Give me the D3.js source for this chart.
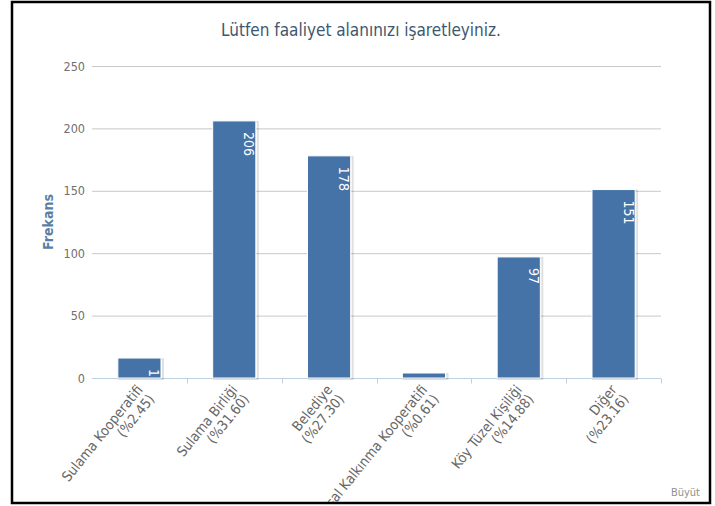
<!DOCTYPE html>
<html>
<head>
<meta charset="utf-8">
<script src="https://cdn.jsdelivr.net/npm/d3@7"></script>
<style>
  html, body { margin: 0; padding: 0; background: #fff; }
  svg { display: block; }
  text { font-family: "DejaVu Sans Condensed", "DejaVu Sans", sans-serif; }
</style>
</head>
<body>
<svg id="chart" width="715" height="506"></svg>
<script>
// Activity-area survey answers (frequency per category)
const categories = [
  "Sulama Kooperatifi",
  "Sulama Birliği",
  "Belediye",
  "Kırsal Kalkınma Kooperatifi",
  "Köy Tüzel Kişiliği",
  "Diğer"
];
const frequencies = [16, 206, 178, 4, 97, 151];
const percentLabels = ["(%2.45)", "(%31.60)", "(%27.30)", "(%0.61)", "(%14.88)", "(%23.16)"];
const yTicks = [0, 50, 100, 150, 200, 250];

const titleText = "Lütfen faaliyet alanınızı işaretleyiniz.";
const yAxisTitle = "Frekans";
const creditText = "Büyüt";

const svg = d3.select("#chart");

// outer frame
const frame = { x: 12, y: 2, w: 698, h: 501 };
const plot = { left: 92, right: 661, top: 66, bottom: 378 };

svg.append("defs").append("clipPath").attr("id", "frameClip")
  .append("rect").attr("x", frame.x).attr("y", frame.y).attr("width", frame.w).attr("height", frame.h);
svg.select("defs").append("clipPath").attr("id", "plotClip")
  .append("rect").attr("x", plot.left).attr("y", plot.top - 20)
  .attr("width", plot.right - plot.left).attr("height", plot.bottom - plot.top + 20);

const g = svg.append("g").attr("clip-path", "url(#frameClip)");

const x = d3.scaleBand().domain(categories).range([plot.left, plot.right]).padding(0);
const y = d3.scaleLinear().domain([0, 250]).range([plot.bottom, plot.top]);

// gridlines + y labels
const yAxis = d3.axisLeft(y).tickValues(yTicks).tickSize(-(plot.right - plot.left)).tickPadding(7);
const yG = g.append("g").attr("transform", `translate(${plot.left},0)`).call(yAxis);
yG.select(".domain").remove();
yG.selectAll(".tick line").attr("stroke", "#c8c8c8").attr("stroke-width", 1)
  .filter(d => d === 0).remove();
yG.selectAll(".tick text").attr("fill", "#707070").attr("font-size", 12.5)
  .attr("font-family", "DejaVu Sans Condensed, DejaVu Sans, sans-serif");

// x axis line and category ticks
const xAxis = d3.axisBottom(x).tickSize(0).tickFormat("");
const xG = g.append("g").attr("transform", `translate(0,${plot.bottom + 0.5})`).call(xAxis);
xG.select(".domain").attr("stroke", "#c0d0e0").attr("d", `M${plot.left},0H${plot.right}`);
xG.selectAll(".tick").remove();
const boundaries = categories.map(c => x(c)).concat([x(categories[categories.length - 1]) + x.bandwidth()]).slice(1);
xG.selectAll("line.cat-tick").data(boundaries).enter().append("line")
  .attr("class", "cat-tick")
  .attr("x1", d => Math.round(d) + 0.5).attr("x2", d => Math.round(d) + 0.5)
  .attr("y1", 0).attr("y2", 5).attr("stroke", "#c0d0e0");

// bars
const barW = x.bandwidth() * 0.455;
const bars = g.append("g");
const barX = c => x(c) + (x.bandwidth() - barW) / 2;
// soft shadow
bars.selectAll("rect.shadow").data(frequencies).enter().append("rect")
  .attr("class", "shadow")
  .attr("x", (d, i) => barX(categories[i]) + 1)
  .attr("y", d => y(d) + 1)
  .attr("width", barW + 1)
  .attr("height", d => plot.bottom - y(d))
  .attr("fill", "none").attr("stroke", "rgba(0,0,0,0.12)").attr("stroke-width", 2);
bars.selectAll("rect.bar").data(frequencies).enter().append("rect")
  .attr("class", "bar")
  .attr("x", (d, i) => barX(categories[i]))
  .attr("y", d => y(d))
  .attr("width", barW)
  .attr("height", d => plot.bottom - y(d))
  .attr("fill", "#4572a7").attr("stroke", "#ffffff").attr("stroke-width", 1);

// value labels, rotated inside the top of each bar
g.append("g").attr("clip-path", "url(#plotClip)")
  .selectAll("text").data(frequencies).enter().append("text")
  .attr("transform", (d, i) => `translate(${barX(categories[i]) + barW - 11.5},${y(d) + 11}) rotate(90)`)
  .attr("fill", "#ffffff").attr("font-size", 14)
  .attr("font-family", "DejaVu Sans, sans-serif")
  .text(d => d);

// rotated category labels (two lines each)
const xl = g.append("g");
categories.forEach((c, i) => {
  const cx = x(c) + x.bandwidth() / 2 + 4;
  const t = xl.append("text")
    .attr("transform", `translate(${cx},${plot.bottom + 12}) rotate(-51)`)
    .attr("text-anchor", "end").attr("fill", "#666").attr("font-size", 14);
  t.append("tspan").attr("x", 0).attr("dy", 0).text(c);
  t.append("tspan").attr("x", 0).attr("dy", 15).text(percentLabels[i]);
});

// y axis title
g.append("text")
  .attr("transform", `translate(53,${(plot.top + plot.bottom) / 2}) rotate(-90)`)
  .attr("text-anchor", "middle").attr("fill", "#5a7fa6")
  .attr("font-size", 14).attr("font-weight", "bold")
  .text(yAxisTitle);

// chart title
g.append("text")
  .attr("x", 361).attr("y", 36)
  .attr("text-anchor", "middle").attr("fill", "#3e576f")
  .attr("font-size", 17)
  .text(titleText);

// credit link text
g.append("text")
  .attr("x", 700).attr("y", 496).attr("text-anchor", "end")
  .attr("fill", "#909090").attr("font-size", 11)
  .text(creditText);

// frame border
svg.append("rect")
  .attr("x", frame.x).attr("y", frame.y).attr("width", frame.w).attr("height", frame.h)
  .attr("fill", "none").attr("stroke", "#000").attr("stroke-width", 2.5);
</script>
</body>
</html>
